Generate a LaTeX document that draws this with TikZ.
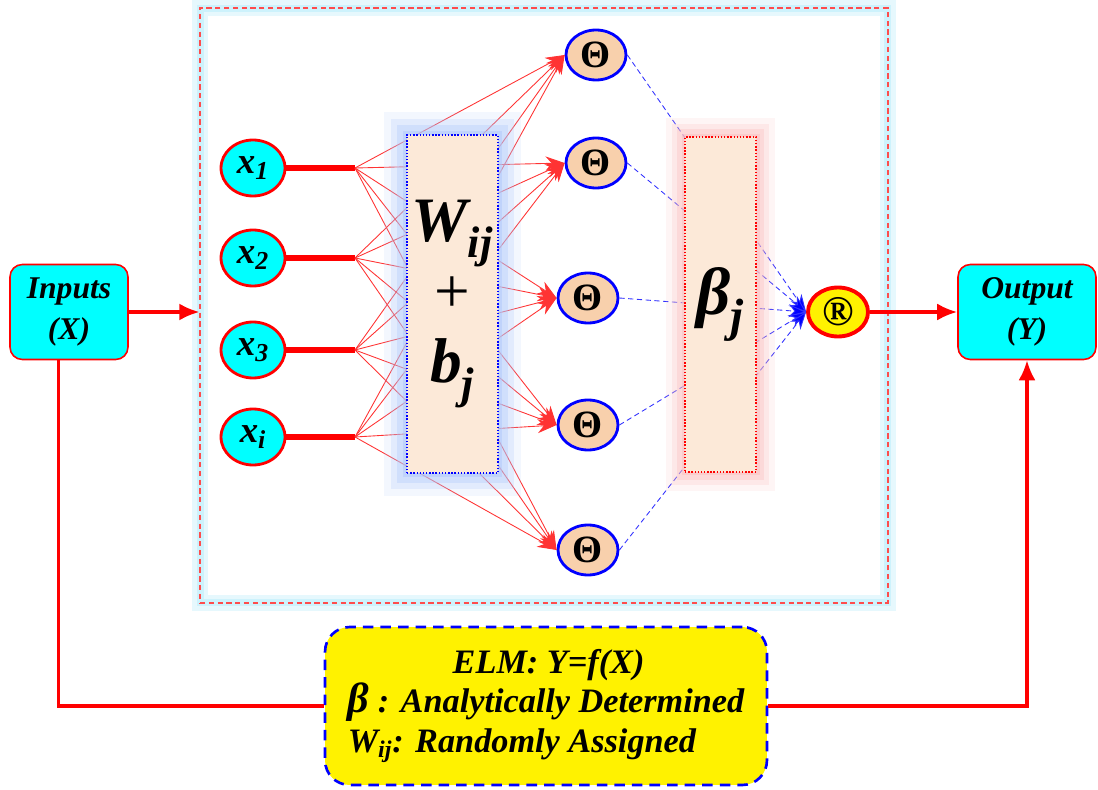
\documentclass[tikz,border=0pt]{standalone}
\usepackage{fontspec}
\setmainfont{Liberation Serif}[
  BoldFont={Liberation Serif Bold},
  ItalicFont={Liberation Serif Italic},
  BoldItalicFont={Liberation Serif Bold Italic}]
\usetikzlibrary{arrows.meta,calc,shapes.geometric}

\definecolor{aqua}{RGB}{0,255,255}
\definecolor{boxpeach}{RGB}{252,233,216}
\definecolor{nodepeach}{RGB}{248,208,172}
\definecolor{glowblue}{RGB}{175,200,250}
\definecolor{glowred}{RGB}{250,190,190}
\definecolor{glowcyan}{RGB}{205,242,252}

\begin{document}
\begin{tikzpicture}[
  x=0.02cm,
  y=-0.02cm,
  >=Latex,
  line/.style={draw=red,line width=1.8pt},
  arrow/.style={line,-{Latex[length=4mm,width=3.4mm]}},
  thickline/.style={draw=red,line width=3pt},
  fan/.style={draw=red!80,line width=0.5pt,-{Stealth[length=3.8mm,width=2.8mm]}},
  bluearrow/.style={draw=blue!80,densely dashed,line width=0.5pt,-{Stealth[length=3.5mm,width=2.6mm,fill=blue]}},
  iobox/.style={draw=red,line width=0.9pt,fill=aqua,rounded corners=7pt,align=center,
    minimum width=2.36cm,minimum height=1.9cm,font=\fontsize{18}{23}\selectfont\bfseries\itshape},
  frame/.style={draw=red!70,densely dashed,line width=0.8pt,inner sep=0pt,
    preaction={draw=glowcyan,draw opacity=0.5,solid,line width=9pt},
    preaction={draw=glowcyan,solid,line width=4pt},
    minimum width=13.76cm,minimum height=11.9cm},
  innode/.style={ellipse,draw=red,line width=1.6pt,fill=aqua,inner sep=0pt,
    minimum width=1.28cm,minimum height=1.12cm,font=\fontsize{21}{21}\selectfont\bfseries\itshape},
  hidnode/.style={ellipse,draw=blue,line width=1.6pt,fill=nodepeach,inner sep=0pt,
    minimum width=1.2cm,minimum height=1.0cm,font=\fontsize{22}{22}\selectfont\bfseries},
  outnode/.style={ellipse,draw=red,line width=2.2pt,fill=yellow,inner sep=0pt,
    minimum width=1.2cm,minimum height=0.98cm,font=\fontsize{24}{24}\selectfont\bfseries},
  wbox/.style={draw=blue,densely dotted,line width=0.8pt,fill=boxpeach,inner sep=0pt,
    preaction={draw=glowblue,draw opacity=0.15,solid,line width=26pt},
    preaction={draw=glowblue,draw opacity=0.25,solid,line width=18pt},
    preaction={draw=glowblue,draw opacity=0.35,solid,line width=11pt},
    preaction={draw=glowblue,draw opacity=0.5,solid,line width=5pt},
    minimum width=1.82cm,minimum height=6.76cm,align=center,
    font=\fontsize{36}{40}\selectfont\bfseries\itshape},
  bbox/.style={draw=red,densely dotted,line width=0.8pt,fill=boxpeach,inner sep=0pt,
    preaction={draw=glowred,draw opacity=0.15,solid,line width=22pt},
    preaction={draw=glowred,draw opacity=0.25,solid,line width=15pt},
    preaction={draw=glowred,draw opacity=0.35,solid,line width=9pt},
    preaction={draw=glowred,draw opacity=0.5,solid,line width=4pt},
    minimum width=1.42cm,minimum height=6.7cm,
    font=\fontsize{38}{40}\selectfont\bfseries\itshape},
  elmbox/.style={draw=blue,dashed,dash pattern=on 6pt off 4pt,line width=1.5pt,fill=yellow,
    rounded corners=14pt,minimum width=8.84cm,minimum height=3.16cm,align=left,
    font=\fontsize{19.5}{22.5}\selectfont\bfseries\itshape}
]
\useasboundingbox (0,0) rectangle (1098,790);

% Outer frame of the network
\node[frame] (frame) at (544,305.5) {};

% Input and output blocks
\node[iobox] (inputs) at (69,312) {Inputs\\(X)};
\node[iobox,minimum width=2.76cm] (output) at (1027,312) {Output\\(Y)};
\draw[arrow] (inputs.east) -- (inputs.east -| frame.west);

% Input neurons
\foreach \i/\y/\lab in {1/168/1,2/258/2,3/350/3,4/437/i}{
  \node[innode] (x\i) at (253,\y) {x\textsubscript{\lab}};
  \coordinate (f\i) at (355,\y);
  \draw[thickline] (x\i.east) -- (f\i);
}

% Hidden neurons and output neuron
\foreach \j/\x/\y in {1/596/55,2/596/163,3/588/298,4/588/425,5/588/550}
  \node[hidnode] (h\j) at (\x,\y) {Θ};
\node[outnode] (out) at (838,312) {®};

% Random weights
\foreach \i in {1,...,4}
  \foreach \j in {1,...,5}
    \draw[fan] (f\i) -- (h\j.west);
\node[wbox] (wts) at (452.5,304)
  {W\textsubscript{ij}\\{\mdseries\upshape +}\\b\textsubscript{j}};

% Output weights
\foreach \j in {1,...,5}
  \draw[bluearrow] (h\j.east) -- (out.west);
\node[bbox] (beta) at (720.5,304.5) {β\textsubscript{j}};

\draw[arrow] (out.east) -- (output.west);

% Summary and feedback
\node[elmbox] (elm) at (546,706)
  {\hspace*{2.1cm}ELM: Y=f(X)\\
   {\fontsize{24}{22}\selectfont β} : Analytically Determined\\
   W\textsubscript{ij}: Randomly Assigned};
\draw[line] ([xshift=-6]inputs.south) |- (elm.west);
\draw[arrow] (elm.east) -| (output.south);

\end{tikzpicture}
\end{document}
